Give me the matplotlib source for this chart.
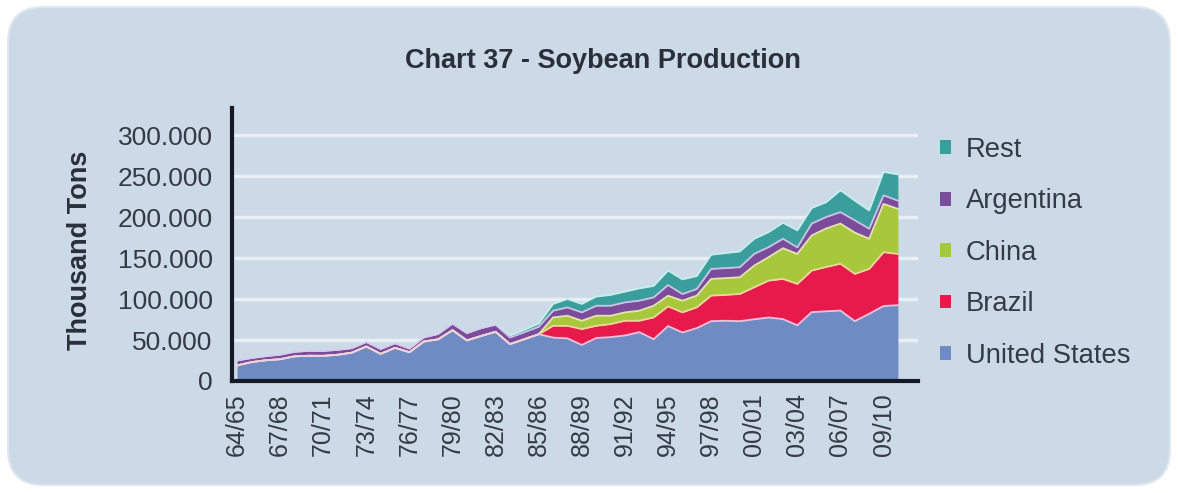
#!/usr/bin/env python3
"""
Chart 37 - Soybean Production (stacked area, thousand tons).
"""

import matplotlib
matplotlib.use('Agg')
import matplotlib.pyplot as plt
from matplotlib.patches import FancyBboxPatch, Patch
from matplotlib.ticker import FuncFormatter
import numpy as np

plt.rcParams['font.family'] = ['Liberation Sans', 'DejaVu Sans']

# Data (thousand tons), crop seasons 64/65 .. 10/11
seasons = ['64/65', '65/66', '66/67', '67/68', '68/69', '69/70', '70/71', '71/72',
           '72/73', '73/74', '74/75', '75/76', '76/77', '77/78', '78/79', '79/80',
           '80/81', '81/82', '82/83', '83/84', '84/85', '85/86', '86/87', '87/88',
           '88/89', '89/90', '90/91', '91/92', '92/93', '93/94', '94/95', '95/96',
           '96/97', '97/98', '98/99', '99/00', '00/01', '01/02', '02/03', '03/04',
           '04/05', '05/06', '06/07', '07/08', '08/09', '09/10', '10/11']

united_states = [19000, 23000, 25300, 26600, 30100, 30800, 30700, 32000,
                 34600, 42100, 33100, 40500, 35100, 48100, 50900, 62000,
                 49500, 55000, 60000, 45000, 51000, 57100, 53000, 52000,
                 44000, 52500, 53500, 55500, 59600, 51000, 67000, 59200,
                 64500, 73000, 73500, 73000, 75300, 77500, 75500, 68000,
                 84000, 85000, 86000, 73000, 82000, 91500, 92500]

brazil = [0, 0, 0, 0, 0, 0, 0, 0,
          0, 0, 0, 0, 0, 0, 0, 0,
          0, 0, 0, 0, 0, 0, 14300, 15300,
          19300, 14800, 15900, 18000, 13900, 26500, 24000, 24500,
          25300, 31100, 31500, 33100, 39000, 44900, 49000, 50400,
          50700, 54000, 57000, 57600, 54700, 65500, 62500]

china = [0, 0, 0, 0, 0, 0, 0, 0,
         0, 0, 0, 0, 0, 0, 0, 0,
         0, 0, 0, 0, 0, 0, 10200, 12300,
         10200, 12300, 10200, 10200, 12200, 14300, 13000, 14300,
         14300, 20400, 20500, 20400, 26500, 28600, 37500, 36600,
         42800, 47000, 49000, 50400, 36800, 59000, 55000]

argentina = [6000, 5000, 5000, 5500, 5500, 6000, 6000, 6000,
             5500, 5500, 6000, 5500, 4500, 5000, 6500, 8000,
             9000, 9500, 8500, 8000, 8500, 9000, 8200, 10200,
             10200, 12200, 12200, 12200, 12300, 10200, 13000, 8100,
             8100, 12200, 12200, 12300, 14300, 12300, 11500, 8000,
             14500, 14000, 14000, 15000, 12200, 10500, 10000]

rest = [0, 0, 0, 0, 0, 0, 0, 0,
        0, 0, 0, 0, 0, 0, 0, 0,
        0, 0, 1000, 2500, 3000, 4000, 8300, 10200,
        10300, 11200, 13200, 13100, 15000, 14000, 17700, 17900,
        15800, 17300, 18300, 19200, 18400, 18300, 19500, 20700,
        19000, 18000, 26600, 24000, 22300, 28500, 32000]

series_labels = ['United States', 'Brazil', 'China', 'Argentina', 'Rest']
series_colors = ['#6f8bc4', '#e8194b', '#a6c83a', '#7c4c9c', '#3a9f9c']
edge_colors = ['#efd0ea', '#f6d9a0', '#f2f2b0', '#d8c8ee', '#c8f0ee']

yticks = [0, 50000, 100000, 150000, 200000, 250000, 300000]

panel_color = '#ccdae7'
text_color = '#343a46'


def main():
    fig = plt.figure(figsize=(11.78, 4.93), dpi=100)
    fig.patch.set_facecolor('white')

    # rounded background panel
    panel = FancyBboxPatch((8 / 1178, 8 / 493), 1162 / 1178, 478 / 493,
                           boxstyle='round,pad=0,rounding_size=0.03',
                           transform=fig.transFigure, facecolor=panel_color,
                           edgecolor='#dfe7ef', linewidth=1.5, zorder=-5,
                           mutation_aspect=1178 / 493)
    fig.patches.append(panel)

    ax = fig.add_axes([232 / 1178, 1 - 381 / 493, (918 - 232) / 1178, (381 - 108) / 493])
    ax.set_facecolor('none')
    ax.set_zorder(2)

    x = np.arange(len(seasons))
    layers = [united_states, brazil, china, argentina, rest]
    bottom = np.zeros(len(seasons))
    tops = []
    for vals, color in zip(layers, series_colors):
        top = bottom + np.array(vals, dtype=float)
        ax.fill_between(x, bottom, top, color=color, linewidth=0, zorder=2)
        tops.append(top)
        bottom = top

    # light separator lines, lower layers drawn last so they win where layers coincide
    for k in range(len(tops) - 1, -1, -1):
        ax.plot(x, tops[k], color=edge_colors[k], linewidth=1.3, alpha=0.9, zorder=3 + (5 - k))

    # gridlines
    for yv in yticks[1:]:
        ax.axhline(yv, color='#e9eff5', linewidth=2.5, zorder=1)

    ax.set_xlim(-0.35, 47.4)
    ax.set_ylim(0, 333000)
    ax.set_yticks(yticks)
    ax.yaxis.set_major_formatter(FuncFormatter(lambda v, p: '0' if v == 0 else f'{int(v):,}'.replace(',', '.')))
    ax.set_xticks(x[::3])
    ax.set_xticklabels(seasons[::3], rotation=90)

    ax.tick_params(axis='y', length=0, pad=14, labelsize=19, labelcolor=text_color)
    ax.tick_params(axis='x', length=0, pad=9, labelsize=18, labelcolor=text_color)

    for side in ['top', 'right']:
        ax.spines[side].set_visible(False)
    for side in ['left', 'bottom']:
        ax.spines[side].set_color('#151a26')
        ax.spines[side].set_linewidth(3)
        ax.spines[side].set_zorder(12)

    fig.text(603 / 1178, 1 - 61 / 493, 'Chart 37 - Soybean Production', ha='center',
             va='center', fontsize=19.5, fontweight='bold', color='#2a2f3a')
    fig.text(80 / 1178, 1 - 250 / 493, 'Thousand Tons', rotation=90, ha='center',
             va='center', fontsize=19.5, fontweight='bold', color='#2a2f3a')

    handles = [Patch(facecolor=c, edgecolor='none', label=l)
               for c, l in zip(series_colors, series_labels)][::-1]
    ax.legend(handles=handles, loc='upper left', bbox_to_anchor=(940 / 1178, 1 - 137 / 493),
              bbox_transform=fig.transFigure, frameon=False, fontsize=19.7,
              handlelength=0.4, handleheight=0.4, handletextpad=0.55,
              labelspacing=0.93, labelcolor=text_color, borderaxespad=0,
              borderpad=0)

    fig.savefig('out.png', dpi=100, facecolor='white')
    plt.close(fig)


if __name__ == '__main__':
    main()
